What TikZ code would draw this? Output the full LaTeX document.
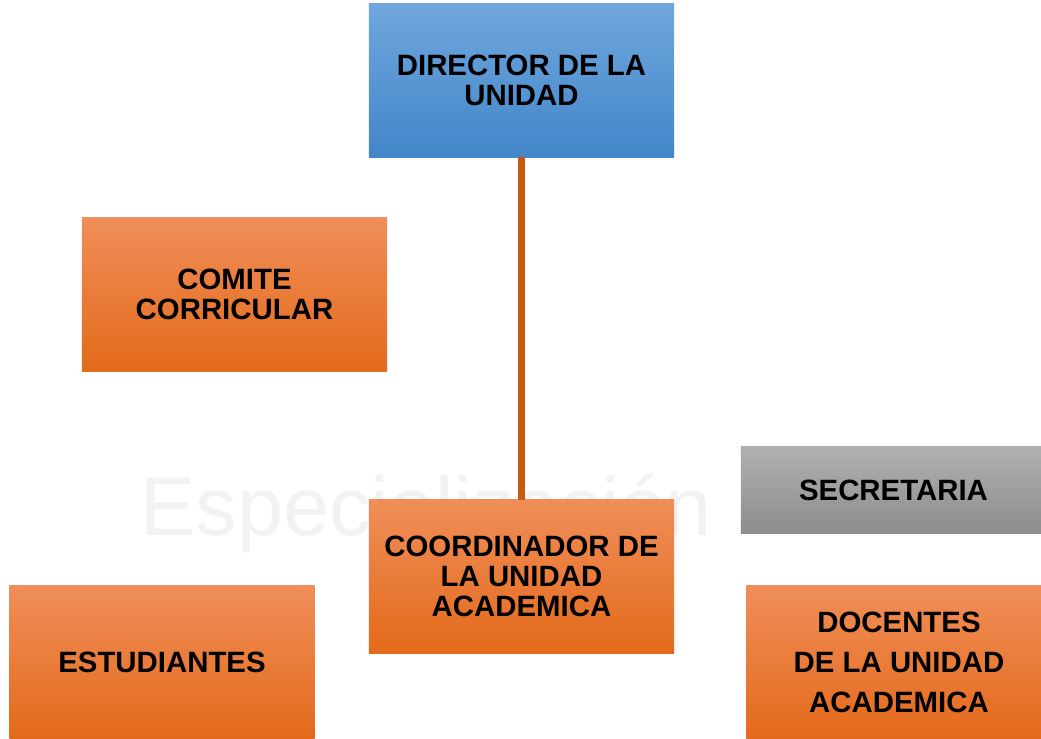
\documentclass[tikz,border=0pt]{standalone}
\usepackage{fontspec}
\setmainfont{Liberation Sans}
\usepackage{tikz}
\usetikzlibrary{positioning}

\definecolor{bluetop}{RGB}{111,167,221}
\definecolor{bluebot}{RGB}{66,134,201}
\definecolor{orangetop}{RGB}{240,142,88}
\definecolor{orangemid}{RGB}{243,126,40}
\definecolor{orangebot}{RGB}{227,106,27}
\definecolor{greytop}{RGB}{176,176,176}
\definecolor{greybot}{RGB}{141,141,141}
\definecolor{linkorange}{RGB}{197,90,17}

\begin{document}
\begin{tikzpicture}[x=0.025cm,y=-0.025cm,
	box/.style={minimum width=7.625cm,minimum height=3.825cm,inner sep=0pt,
		align=center,font=\bfseries\fontsize{20.9}{21.3}\selectfont},
	bluebox/.style={box,top color=bluetop,bottom color=bluebot},
	orangebox/.style={box,top color=orangetop,middle color=orangemid,bottom color=orangebot},
	greybox/.style={box,minimum height=2.15cm,top color=greytop,bottom color=greybot},
	link/.style={linkorange,line width=5.6pt}]
			\useasboundingbox (0,0) rectangle (1041,738);
			\fill [white] (0,0) rectangle (1041,738);
			% faint background lettering
			\node [anchor=base west,inner sep=0pt,text=black!5,font=\fontsize{59}{59}\selectfont] (marca) at (140,535) {Especialización};
			% boxes
			\node [bluebox] (director) at (521.5,80.5) {DIRECTOR DE LA\\UNIDAD};
			\node [orangebox] (comite) at (234.5,294.5) {COMITE\\CORRICULAR};
			\node [orangebox] (coordinador) at (521.5,576.5) {COORDINADOR DE\\LA UNIDAD\\ACADEMICA};
			\node [greybox] (secretaria) at (893.5,490) {SECRETARIA};
			\node [orangebox,minimum height=3.8cm] (estudiantes) at (162,662) {ESTUDIANTES};
			\node [orangebox,minimum height=3.8cm,font=\bfseries\fontsize{20.9}{28.5}\selectfont] (docentes) at (899,662) {DOCENTES\\DE LA UNIDAD\\ACADEMICA};
			% connector
			\draw [link] (director.south) -- (coordinador.north);
\end{tikzpicture}
\end{document}
